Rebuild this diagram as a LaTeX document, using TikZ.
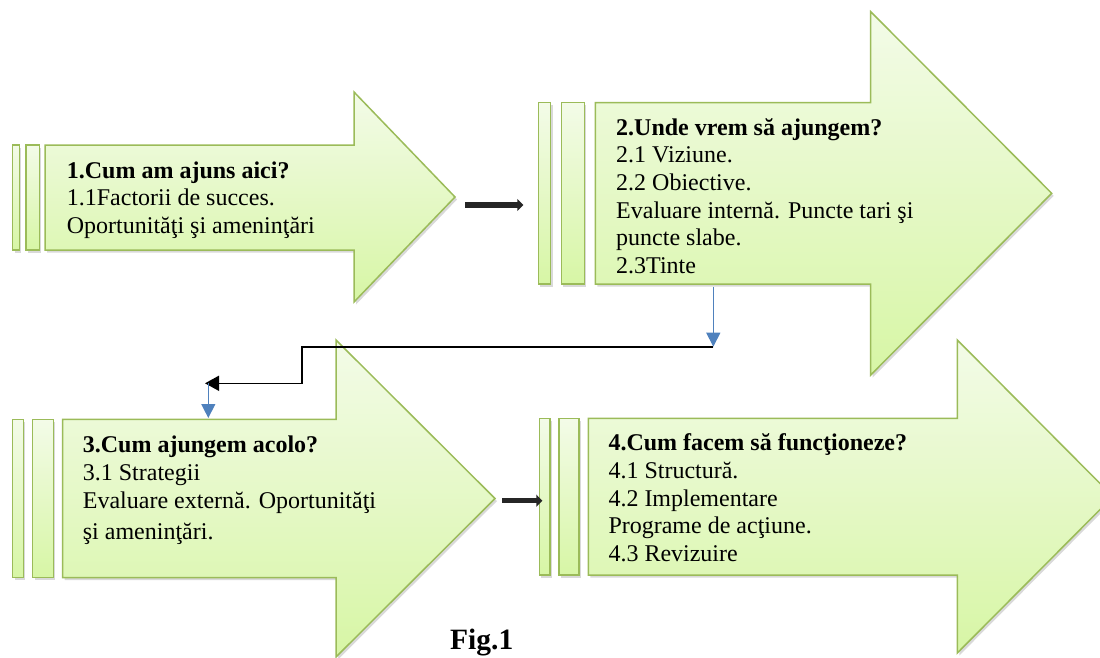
\documentclass[tikz,border=0pt]{standalone}
\usepackage{fontspec}
\setmainfont{Liberation Serif}
\usetikzlibrary{calc,positioning,arrows.meta,shadows}

\definecolor{leafline}{RGB}{155,187,89}
\definecolor{leaftop}{RGB}{243,251,232}
\definecolor{leafbot}{RGB}{215,246,165}
\definecolor{linkblue}{RGB}{79,129,189}

\tikzset{
  leaf/.style={draw=leafline,line width=1.5pt,top color=leaftop,bottom color=leafbot,
    drop shadow={shadow xshift=2pt,shadow yshift=-2.5pt,opacity=0.3}},
  boxtext/.style={anchor=north west,inner sep=0pt,align=left,
    font=\fontsize{24}{27.6}\selectfont},
  fatlink/.style={black!85,line width=5.5pt,-{Triangle[length=6pt,width=12pt]}},
  bluelink/.style={linkblue,line width=1.2pt,-{Triangle[length=14pt,width=14pt]}},
  blacklink/.style={black,line width=1.6pt,-{Triangle[length=14pt,width=15pt]}}
}

\begin{document}
\begin{tikzpicture}[x=1pt,y=-1pt]
  \useasboundingbox (0,0) rectangle (1100,657);
  \clip (0,0) rectangle (1100,657);

  % arrow 1
  \draw[leaf] (12.7,145) rectangle (19.3,250);
  \draw[leaf] (26,145) rectangle (39.3,250);
  \draw[leaf] (45,145) -- (354,145) -- (354,92) -- (455,197) -- (354,302)
    -- (354,250) -- (45,250) -- cycle;
  \coordinate (tip1) at (455,197);
  \node[boxtext] (cum) at (66.7,158.7) {\strut\textbf{1.Cum am ajuns aici?}\\
    1.1Factorii de succes.\\Oportunităţi şi ameninţări};

  % arrow 2
  \draw[leaf] (538.3,102.7) rectangle (550.7,284);
  \draw[leaf] (561.3,102.7) rectangle (584.3,284);
  \draw[leaf] (595.3,102.7) -- (870.7,102.7) -- (870.7,11.7) -- (1051.7,193.3)
    -- (870.7,375) -- (870.7,284) -- (595.3,284) -- cycle;
  \coordinate (bar2) at (538.3,205);
  \node[boxtext] (unde) at (616,115.7) {\strut\textbf{2.Unde vrem să ajungem?}\\
    2.1 Viziune.\\2.2 Obiective.\\Evaluare internă. Puncte tari şi\\
    puncte slabe.\\2.3Tinte};

  % arrow 3
  \draw[leaf] (12.7,419.3) rectangle (23.3,577.7);
  \draw[leaf] (32.7,419.3) rectangle (53.3,577.7);
  \draw[leaf] (62.7,419.3) -- (336,419.3) -- (336,340) -- (495,498.5) -- (336,657)
    -- (336,577.7) -- (62.7,577.7) -- cycle;
  \coordinate (tip3) at (495,498.5);
  \node[boxtext] (acolo) at (82.7,433.4) {\strut\textbf{3.Cum ajungem acolo?}\\
    3.1 Strategii\\Evaluare externă. Oportunităţi\\[4pt]şi ameninţări.};

  % arrow 4
  \draw[leaf] (539.3,418.3) rectangle (550,575);
  \draw[leaf] (559,418.3) rectangle (579,575);
  \draw[leaf] (588.3,418.3) -- (957.3,418.3) -- (957.3,340) -- (1113,496.5)
    -- (957.3,653) -- (957.3,575) -- (588.3,575) -- cycle;
  \coordinate (bar4) at (539.3,500.7);
  \node[boxtext] (functie) at (608.3,431.4) {\strut\textbf{4.Cum facem să funcţioneze?}\\
    4.1 Structură.\\4.2 Implementare\\Programe de acţiune.\\4.3 Revizuire};

  % links
  \coordinate (out2) at (713.3,286.5);
  \coordinate (turn1) at (713.3,346.7);
  \coordinate (turn2) at (301.7,346.7);
  \coordinate (turn3) at (301.7,383.3);
  \coordinate (in3) at (205,383.3);
  \coordinate (down3) at (208.3,383.3);
  \coordinate (top3) at (208.3,418);

  \draw[fatlink] ($(tip1)+(10,8)$) -- ($(bar2)+(-15,0)$);
  \draw[fatlink] ($(tip3)+(7,2.2)$) -- ($(bar4)+(3,0)$);
  \draw[bluelink] (out2) -- (turn1);
  \draw[blacklink] (turn1) -- (turn2) -- (turn3) -- (in3);
  \draw[bluelink] (down3) -- (top3);

  \node[anchor=base west,inner sep=0pt,font=\fontsize{29.5}{32}\selectfont\bfseries]
    (fig) at (450,649) {Fig.1};
\end{tikzpicture}
\end{document}
